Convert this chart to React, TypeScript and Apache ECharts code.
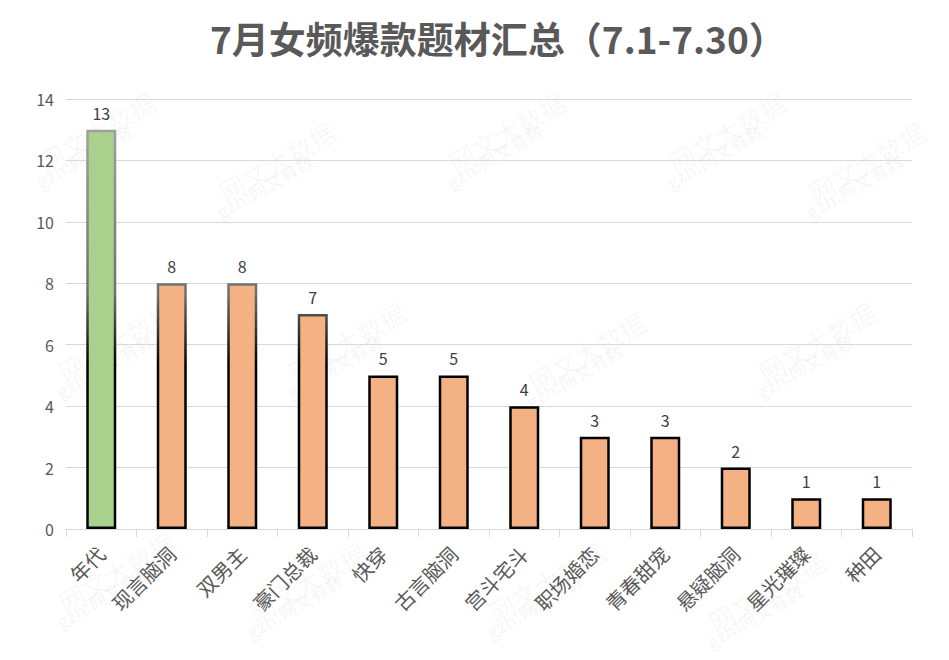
import React, { useEffect, useRef } from "react";
import * as echarts from "echarts";

const categories = ["年代", "现言脑洞", "双男主", "豪门总裁", "快穿", "古言脑洞", "宫斗宅斗", "职场婚恋", "青春甜宠", "悬疑脑洞", "星光璀璨", "种田"];
const values = [13, 8, 8, 7, 5, 5, 4, 3, 3, 2, 1, 1];
const highlightIndex = 0;
const titleText = "7月女频爆款题材汇总（7.1-7.30）";
const watermarks = [
  [90, 120], [270, 150], [500, 120], [720, 120], [860, 150],
  [110, 330], [340, 330], [580, 340], [810, 330],
  [110, 560], [300, 570], [540, 570], [760, 580],
];

const FONT = "'Noto Sans CJK SC', 'Microsoft YaHei', sans-serif";

export default function App() {
  const ref = useRef<HTMLDivElement>(null);
  useEffect(() => {
    const chart = echarts.init(ref.current!, null, { renderer: "svg" });
    const border = new echarts.graphic.LinearGradient(0, 99, 0, 529, [
      { offset: 0, color: "#a8a8a8" },
      { offset: 0.45, color: "#707070" },
      { offset: 0.62, color: "#000000" },
      { offset: 1, color: "#000000" },
    ], true);
    chart.setOption({
      animation: false,
      backgroundColor: "#ffffff",
      textStyle: { fontFamily: FONT },
      title: {
        text: titleText,
        left: 205,
        top: 14,
        textStyle: { fontSize: 37, fontWeight: "bold", color: "#595959", fontFamily: FONT },
      },
      graphic: watermarks.flatMap(([x, y]) => [
        {
          type: "text", x, y, rotation: Math.PI / 6, silent: true, z: -10,
          style: { text: "网文大数据", fill: "rgba(0,0,0,0.04)", font: `26px ${FONT}`, textAlign: "center" },
        },
        {
          type: "text", x: x - 10, y: y + 28, rotation: Math.PI / 6, silent: true, z: -10,
          style: { text: "gzh:网文有数", fill: "rgba(0,0,0,0.035)", font: `bold 18px ${FONT}`, textAlign: "center" },
        },
      ]),
      grid: { left: 66, right: 37, top: 99, bottom: 131, containLabel: false },
      xAxis: {
        type: "category",
        data: categories,
        axisLine: { lineStyle: { color: "#d9d9d9" } },
        axisTick: { show: true, length: 8, lineStyle: { color: "#d9d9d9" } },
        axisLabel: { rotate: 45, fontSize: 20, color: "#595959", interval: 0, margin: 21, fontFamily: FONT },
      },
      yAxis: {
        type: "value",
        min: 0,
        max: 14,
        interval: 2,
        axisLine: { show: false },
        axisTick: { show: false },
        axisLabel: { fontSize: 16, color: "#595959", margin: 12, fontFamily: FONT },
        splitLine: { lineStyle: { color: "#d9d9d9" } },
      },
      series: [
        {
          type: "bar",
          barWidth: 30,
          data: values.map((v, i) => ({
            value: v,
            itemStyle: { color: i === highlightIndex ? "#a9d18e" : "#f4b183" },
          })),
          itemStyle: { borderColor: border, borderWidth: 2.5 },
          label: { show: true, position: "top", fontSize: 16, color: "#404040", distance: 9, fontFamily: FONT },
        },
      ],
    });
    return () => chart.dispose();
  }, []);
  return <div ref={ref} style={{ position: "fixed", left: 0, top: 0, width: 949, height: 660 }} />;
}
